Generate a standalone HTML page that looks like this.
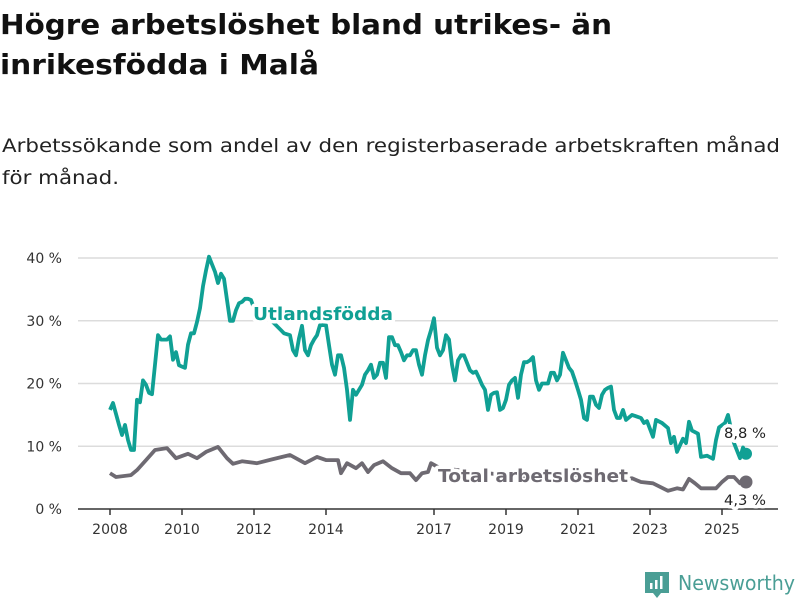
<!DOCTYPE html>
<html><head><meta charset="utf-8"><style>
html,body{margin:0;padding:0;background:#fff;}
svg{display:block;font-family:"DejaVu Sans","Liberation Sans",sans-serif;}
</style></head><body>
<svg id="chart" width="800" height="600" viewBox="0 0 800 600" xmlns="http://www.w3.org/2000/svg">
<text x="0" y="34" font-size="28" font-weight="bold" fill="#111" textLength="612" lengthAdjust="spacingAndGlyphs">Högre arbetslöshet bland utrikes- än</text>
<text x="0" y="74" font-size="28" font-weight="bold" fill="#111" textLength="319" lengthAdjust="spacingAndGlyphs">inrikesfödda i Malå</text>
<text x="2" y="152" font-size="19" fill="#222" textLength="778" lengthAdjust="spacingAndGlyphs">Arbetssökande som andel av den registerbaserade arbetskraften månad</text>
<text x="2" y="184" font-size="19" fill="#222" textLength="117" lengthAdjust="spacingAndGlyphs">för månad.</text>
<g id="grid"></g>
<g id="series"></g>
<g id="labels"></g>
<g>
<path d="M645 572 h24 v21 h-8 l-4 5 l-4 -5 h-8 z" fill="#4a9e95"/>
<rect x="650" y="583" width="2.5" height="6" fill="#fff"/><rect x="655" y="580" width="2.5" height="9" fill="#fff"/><rect x="660" y="576" width="2.5" height="13" fill="#fff"/>
<text x="678" y="590" font-size="20" fill="#4a9e95" textLength="117" lengthAdjust="spacingAndGlyphs">Newsworthy</text>
</g>
</svg>
<script>
const yTicks=[0,10,20,30,40];
const yTickLabels=["0 %","10 %","20 %","30 %","40 %"];
const xTickYears=[2008,2010,2012,2014,2017,2019,2021,2023,2025];
const foreignMonths=[0,1,3,4,5,6,7,8,9,10,11,12,13,14,15,16,17,18,19,20,21,22,23,24,25,26,27,28,29,30,31,32,33,34,35,36,37,38,39,40,41,42,43,44,45,46,47,48,53,57,58,60,61,62,63,64,65,66,67,68,69,70,71,72,73,74,75,76,77,78,79,80,81,82,83,84,85,86,87,88,89,90,91,92,93,94,95,96,97,98,99,100,101,102,103,104,105,106,107,108,109,110,111,112,113,114,115,116,117,118,119,120,121,122,123,124,125,126,127,128,129,130,131,132,133,134,135,136,137,138,139,140,141,142,143,144,145,146,147,148,149,150,151,152,153,154,155,156,157,158,159,160,161,162,163,164,165,166,167,168,169,170,171,172,174,177,178,179,181,182,184,186,187,188,189,191,192,193,194,196,197,199,201,202,203,205,206,208,210,211,212];
const foreignValues=[15.8,16.9,13.4,11.8,13.4,11,9.4,9.4,17.4,17,20.5,19.8,18.5,18.3,23,27.7,27,27,27,27.5,23.8,25,22.9,22.7,22.5,26.2,28,28,29.8,32,35.5,38,40.2,39,37.8,36,37.5,36.7,33.3,30,30,31.7,32.8,33,33.5,33.5,33.3,32,30.4,28.5,28,27.7,25.3,24.5,27.2,29.2,25.3,24.5,26.1,27,27.7,29.3,29.3,29.3,26.1,23,21.4,24.5,24.5,22.5,19,14.2,19,18.2,19,19.8,21.4,22.1,23,20.9,21.4,23.3,23.3,20.9,27.4,27.4,26.1,26.1,25,23.7,24.5,24.5,25.3,25.3,23,21.4,24.5,26.9,28.5,30.4,25.7,24.5,25.3,27.7,27,23,20.5,23.7,24.5,24.5,23.3,22.1,21.7,21.9,20.9,19.8,19,15.8,18.2,18.5,18.6,15.8,16.1,17.4,19.8,20.5,20.9,17.7,21.4,23.4,23.4,23.7,24.2,20.5,19,20,20,20,21.7,21.7,20.5,21.4,24.9,23.7,22.5,21.9,20.5,19,17.4,14.5,14.2,17.9,17.9,16.6,16.1,18.2,19,19.3,19.5,15.8,14.5,14.5,15.8,14.2,15,14.5,13.7,14,11.5,14.2,13.7,12.9,10.5,11.5,9.1,11.2,10.5,13.9,12.5,12,8.3,8.5,8,11,13,13.7,15,10.5,8.1,9.8,8.8];
const totalMonths=[0,2,7,9,12,15,19,22,26,29,32,36,39,41,44,49,54,60,65,69,72,76,77,79,82,84,86,88,91,94,97,100,102,104,106,107,110,120,130,140,150,160,170,174,177,181,186,189,191,193,195,197,202,204,206,208,210,212];
const totalValues=[5.7,5.1,5.4,6.2,7.8,9.4,9.7,8.1,8.8,8.1,9.1,9.9,8.1,7.2,7.6,7.3,7.9,8.6,7.3,8.3,7.8,7.8,5.7,7.3,6.5,7.3,5.9,7,7.6,6.5,5.7,5.7,4.6,5.7,5.9,7.3,6.5,6,5.5,5,5.3,5.5,4.8,4.9,4.3,4.1,2.9,3.3,3.1,4.8,4.1,3.3,3.3,4.3,5.1,5.1,4.1,4.3];

const NS="http://www.w3.org/2000/svg";
const X0=110,PX_MONTH=3,Y0=509,PX_PCT=6.275;
function xM(m){return X0+m*PX_MONTH;}
function xYear(y){return xM((y-2008)*12);}
function yV(v){return Y0-v*PX_PCT;}
function mk(tag,attrs,parent){const e=document.createElementNS(NS,tag);for(const k in attrs)e.setAttribute(k,attrs[k]);parent.appendChild(e);return e;}
const grid=document.getElementById('grid'),series=document.getElementById('series'),labels=document.getElementById('labels');
yTicks.forEach((t,i)=>{
  if(t>0){const l=mk('line',{x1:78,x2:778,y1:yV(t),y2:yV(t),stroke:'#dcdcdc','stroke-width':1.5},grid);
  
  }
  const tx=mk('text',{x:62,y:yV(t)+5,'font-size':14,'text-anchor':'end',fill:'#333'},grid);
  tx.textContent=yTickLabels[i];
  
  
});
const ax=mk('line',{x1:78,x2:778,y1:Y0,y2:Y0,stroke:'#333','stroke-width':1.5},grid);


xTickYears.forEach(yr=>{
  const tk=mk('line',{x1:xYear(yr),x2:xYear(yr),y1:Y0,y2:Y0+6,stroke:'#333','stroke-width':1.5},grid);
  
  
  const tx=mk('text',{x:xYear(yr),y:534,'font-size':14,'text-anchor':'middle',fill:'#333'},grid);
  tx.textContent=yr;
  
  
});
function path(ms,vs){return ms.map((m,i)=>(i?'L':'M')+xM(m).toFixed(1)+' '+yV(vs[i]).toFixed(1)).join(' ');}
const tl=mk('path',{d:path(totalMonths,totalValues),fill:'none',stroke:'#6e6a72','stroke-width':3.8,'stroke-linejoin':'round'},series);


const fl=mk('path',{d:path(foreignMonths,foreignValues),fill:'none',stroke:'#10a094','stroke-width':3.8,'stroke-linejoin':'round'},series);


const fe=foreignMonths.length-1,te=totalMonths.length-1;
const fd=mk('circle',{cx:xM(foreignMonths[fe]),cy:yV(foreignValues[fe]),r:6,fill:'#10a094'},series);


const td=mk('circle',{cx:xM(totalMonths[te]),cy:yV(totalValues[te]),r:6.5,fill:'#6e6a72'},series);


function lab(txt,x,y,size,weight,fill,len,name){
  const t=mk('text',{x:x,y:y,'font-size':size,'font-weight':weight,fill:fill,stroke:'#fff','stroke-width':7,'paint-order':'stroke','stroke-linejoin':'round',textLength:len,lengthAdjust:'spacingAndGlyphs'},labels);
  t.textContent=txt;
  
  
}
lab('Utlandsfödda',253,320,18,'bold','#10a094',140,'foreign-born-label');
lab('Total arbetslöshet',438,482,18,'bold','#6e6a72',190,'total-label');
lab('8,8 %',724,438,14,'normal','#222',42,'foreign-born-end-value');
lab('4,3 %',724,505,14,'normal','#222',42,'total-end-value');
</script>
</body></html>
